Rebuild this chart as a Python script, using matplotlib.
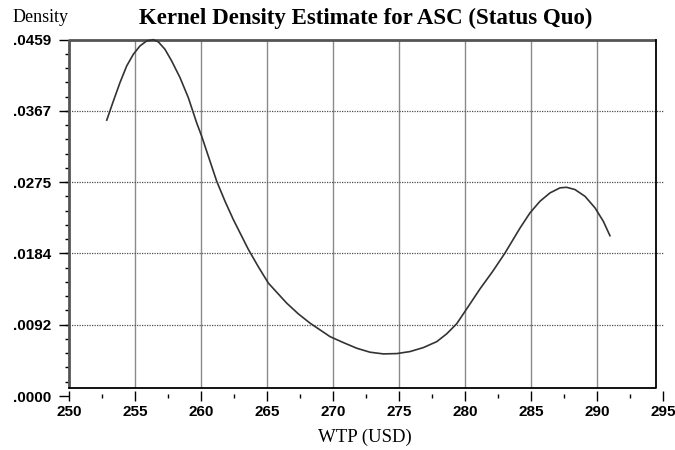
import numpy as np
import matplotlib.pyplot as plt

# WTP values and estimated density
wtp = [252.86, 253.36, 253.86, 254.37, 254.87, 255.38, 255.89, 256.39, 256.77,
       257.27, 257.78, 258.41, 259.04, 259.67, 260.05, 261.19, 261.82, 262.45,
       263.58, 264.34, 265.10, 266.49, 267.37, 268.26, 269.77, 270.78, 271.80,
       272.80, 273.81, 274.83, 275.83, 276.84, 277.86, 278.61, 279.37, 280.20,
       281.14, 282.10, 283.03, 284.17, 284.92, 285.68, 286.44, 287.20, 287.70,
       288.33, 289.09, 289.85, 290.48, 290.98]
density = [0.03552, 0.03797, 0.04034, 0.04249, 0.04399, 0.04508, 0.04572, 0.04588,
           0.04559, 0.04464, 0.04313, 0.04099, 0.03841, 0.03518, 0.03345, 0.02765,
           0.02507, 0.02271, 0.01890, 0.01665, 0.01454, 0.01196, 0.01058, 0.00938,
           0.00765, 0.00688, 0.00615, 0.00564, 0.00542, 0.00546, 0.00572, 0.00623,
           0.00700, 0.00800, 0.00930, 0.01140, 0.01380, 0.01605, 0.01841, 0.02163,
           0.02357, 0.02507, 0.02615, 0.02680, 0.02687, 0.02658, 0.02571, 0.02422,
           0.02249, 0.02064]

xticks = [250, 255, 260, 265, 270, 275, 280, 285, 290, 295]
yticks = [0.0, 0.0092, 0.0184, 0.0275, 0.0367, 0.0459]
ylabels = ['.0000', '.0092', '.0184', '.0275', '.0367', '.0459']

fig = plt.figure(figsize=(6.75, 4.5), dpi=100)
ax = fig.add_axes([69 / 675, 54 / 450, 594 / 675, 356.5 / 450])
ax.set_xlim(250, 295)
ax.set_ylim(0, 0.0459)
for s in ax.spines.values():
    s.set_visible(False)

ybot = 0.00103
xright = 294.5

# grid
ax.vlines(xticks[1:-1], ybot, 0.0459, color='#8a8a8a', lw=1.0, zorder=1)
ax.hlines(yticks[1:-1], 250, 295, color='#505050', lw=0.9,
          linestyles=(0, (1, 1)), zorder=1, clip_on=False)

# frame
ax.plot([250, 250, xright], [ybot, 0.0459, 0.0459], color='#555555', lw=2.0,
        solid_capstyle='butt', zorder=2, clip_on=False)
ax.plot([xright, xright, 250], [0.0459, ybot, ybot], color='black', lw=1.3,
        zorder=2, clip_on=False)

# density curve
ax.plot(wtp, density, color='#333333', lw=1.2, zorder=3, clip_on=False)

ax.set_xticks(xticks)
ax.set_xticklabels([str(t) for t in xticks])
ax.set_xticks(np.arange(252.5, 295, 5), minor=True)
ax.set_yticks(yticks)
ax.set_yticklabels(ylabels)
ax.set_yticks(np.arange(0, 0.0459, 0.0459 / 25), minor=True)

tfont = dict(family='Liberation Sans', weight='bold', size=11)
for lab in ax.get_xticklabels() + ax.get_yticklabels():
    lab.set_fontproperties(tfont)
ax.tick_params(axis='x', which='major', direction='inout', length=7, width=1, pad=3)
ax.tick_params(axis='x', which='minor', direction='inout', length=3, width=1)
ax.tick_params(axis='y', which='major', direction='out', length=7, width=1, pad=6)
ax.tick_params(axis='y', which='minor', direction='out', length=3, width=1)

fig.text(366 / 675, 1 - 18 / 450, 'Kernel Density Estimate for ASC (Status Quo)',
         family='Liberation Serif', weight='bold', size=16.5, ha='center', va='center')
fig.text(13 / 675, 1 - 17 / 450, 'Density', family='Liberation Serif', size=13,
         ha='left', va='center')
fig.text(365 / 675, 1 - 437 / 450, 'WTP (USD)', family='Liberation Serif', size=13.5,
         ha='center', va='center')

fig.savefig('out.png', dpi=100)
